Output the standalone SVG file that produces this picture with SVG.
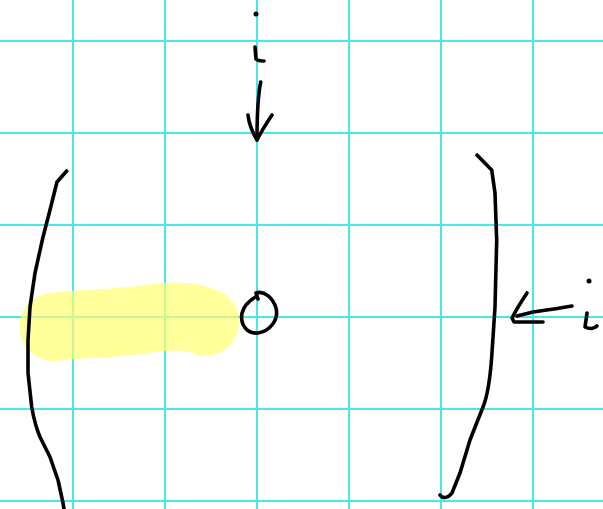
<svg xmlns="http://www.w3.org/2000/svg" width="603" height="509" viewBox="0 0 603 509">
<style>
.grid line{stroke:#45e8ec;stroke-width:2}
.ink{fill:none;stroke:#000;stroke-width:3.6;stroke-linecap:round;stroke-linejoin:round}
.hl{fill:none;stroke:#ffff70;stroke-opacity:0.7;stroke-width:68;stroke-linecap:round;stroke-linejoin:round}
</style>
<rect width="603" height="509" fill="#fff"/>
<g class="grid">
<line x1="73" y1="0" x2="73" y2="509"/><line x1="165" y1="0" x2="165" y2="509"/><line x1="257" y1="0" x2="257" y2="509"/><line x1="349" y1="0" x2="349" y2="509"/><line x1="441" y1="0" x2="441" y2="509"/><line x1="533" y1="0" x2="533" y2="509"/>
<line x1="0" y1="41" x2="603" y2="41"/><line x1="0" y1="133" x2="603" y2="133"/><line x1="0" y1="225" x2="603" y2="225"/><line x1="0" y1="317" x2="603" y2="317"/><line x1="0" y1="409" x2="603" y2="409"/><line x1="0" y1="501" x2="603" y2="501"/>
</g>
<g id="highlight">
<path class="hl" d="M53,327 C80,323 110,324 140,320 C165,316 188,314 205,322"/>
</g>
<g id="left-bracket">
<path class="ink" d="M66.7,171 L57,182 L55,190 L50,210 L43,237 L35,273 L30,307 L28,340 L28,373 L31.7,407 C34,420 37,430 40,437 L50,457 L58,480 L63,503 L64,509"/>
</g>
<g id="right-bracket">
<path class="ink" d="M477,155 L491.7,170 L495,193 L496.7,240 L495,307 L491.7,357 C490,380 488,395 483,407 L470,440 L460,473 L452,493 C449,497 445,498 442,497 L440,495"/>
</g>
<g id="circle">
<path class="ink" d="M258,299 L256,293 C264,290 273,298 276,308 C279,320 270,331 258,333 C247,334 240,325 242,313 C244,305 250,300 257,296"/>
</g>
<g id="top-i">
<circle cx="256" cy="14" r="2.5" fill="#000"/>
<path class="ink" d="M255,47 L256,59 C258,61 261,61 264,61"/>
</g>
<g id="right-i">
<circle cx="589" cy="281" r="2.5" fill="#000"/>
<path class="ink" d="M587,313 L585,327 C589,329 594,329 597,326"/>
</g>
<g id="connectors">
<path class="ink" d="M260.7,82 C258,95 257,110 257,140"/>
<path class="ink" d="M248,115 C249,124 251,130 257,140 C261,132 266,124 272,115"/>
<path class="ink" d="M572,306 C555,309 540,311 533,312 L517,316"/>
<path class="ink" d="M527,293 C521,302 516,310 512,318 L514,322 L543,322"/>
</g>
</svg>
